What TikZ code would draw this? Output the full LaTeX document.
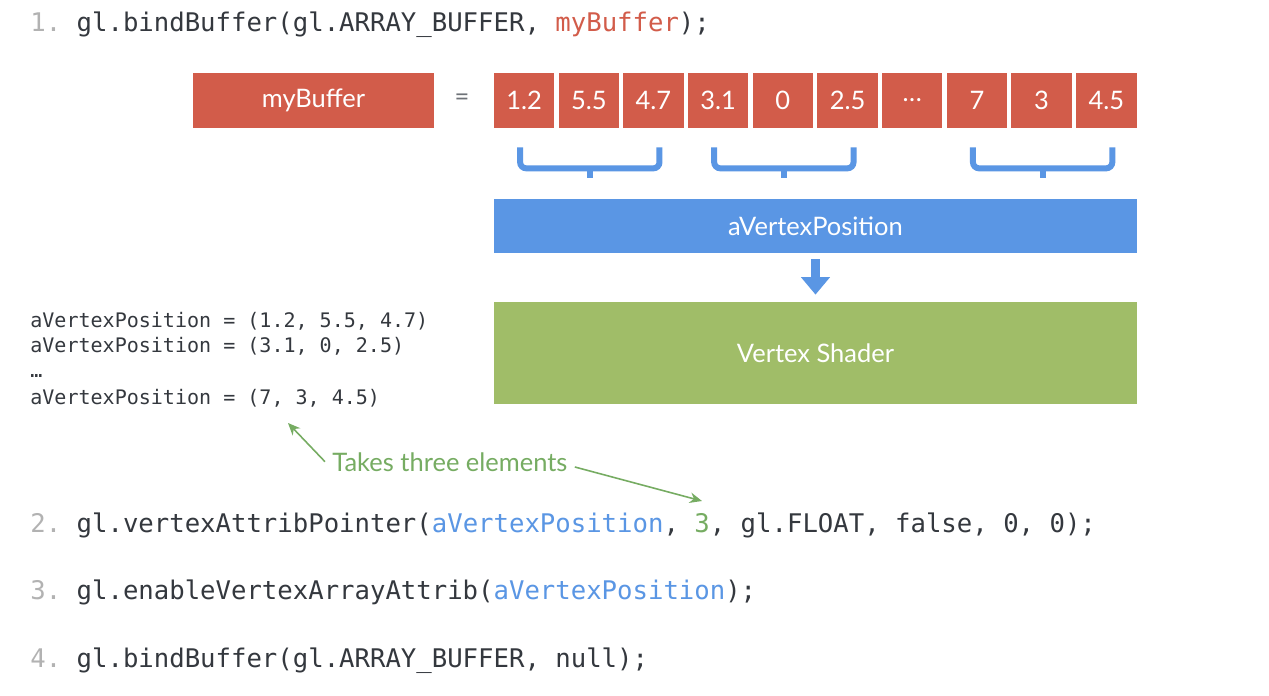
\documentclass[tikz,border=0pt]{standalone}
\usepackage{fontspec}
\setmainfont{Lato}
\setmonofont{DejaVu Sans Mono}
\usepackage{tikz}
\usetikzlibrary{positioning, arrows.meta, calc}
\usepackage{xcolor}
\definecolor{bufred}{RGB}{210,92,74}
\definecolor{attrblue}{RGB}{90,150,228}
\definecolor{shadergreen}{RGB}{160,189,104}
\definecolor{notegreen}{RGB}{118,172,98}
\definecolor{codegray}{RGB}{52,56,62}
\definecolor{linenum}{RGB}{178,178,178}
\definecolor{eqgray}{RGB}{110,114,120}
\newcommand{\us}{\char95\relax}

\begin{document}
\begin{tikzpicture}[
  x=0.02cm, y=-0.02cm,
  cell/.style  = {rectangle, fill=bufred, text=white, inner sep=0pt,
                  minimum width=1.21cm, minimum height=1.1cm,
                  font=\fontsize{14.5}{17}\selectfont},
  bar/.style   = {rectangle, text=white, inner sep=0pt, minimum width=12.86cm,
                  font=\fontsize{14.5}{17}\selectfont},
  code/.style  = {anchor=base west, inner sep=0pt, text=codegray,
                  font=\ttfamily\fontsize{14.6}{17}\selectfont},
  small/.style = {anchor=base west, inner sep=0pt, text=codegray,
                  font=\ttfamily\fontsize{11.4}{14}\selectfont},
  brace/.style = {draw=attrblue, line width=3.4pt, rounded corners=3.5pt},
  flow/.style  = {draw=attrblue, line width=5.6pt,
                  -{Triangle[length=10pt,width=16pt]},
                  shorten <=3.4pt, shorten >=4pt},
  note/.style  = {draw=notegreen, line width=0.9pt,
                  -{Stealth[length=7pt,width=6pt]}}
]
\path[use as bounding box, fill=white] (0,0) rectangle (1269,696);
% Step 1
\node[code] (line1) at (30,32) {\textcolor{linenum}{1.} gl.bindBuffer(gl.ARRAY\us BUFFER, \textcolor{bufred}{myBuffer});};
% Buffer contents
\node[cell, minimum width=4.82cm] (buf) at (313.5,100.5) {myBuffer};
\node[text=eqgray, font=\fontsize{14.5}{17}\selectfont] (eq) at (462,100) {=};
\coordinate (c0) at (490,100.5);
\foreach \v [count=\i, evaluate=\i as \j using int(\i-1)] in {1.2,5.5,4.7,3.1,0,2.5,{.\kern0.3pt.\kern0.3pt.},7,3,4.5}
  \node[cell, right=0.07cm of c\j] (c\i) {\v};
% Braces grouping three values
\foreach \a/\b in {1/3, 4/6, 8/10} {
  \draw[brace] ($(c\a.south)+(-4,19)$) |- ($(c\b.south)+(6,40)$) -- ($(c\b.south)+(6,19)$);
  \draw[brace, rounded corners=0pt] ($(c\a.south)!0.5!(c\b.south)+(1,40)$) -- ++(0,10);
}
% Attribute and shader
\node[bar, fill=attrblue, minimum height=1.08cm] (attr) at (815.5,226) {aVertexPosition};
\node[bar, fill=shadergreen, minimum height=2.04cm] (vs) at (815.5,353) {Vertex Shader};
\draw[flow] (attr) -- (vs);
% Values read per vertex
\node[small] (pos1) at (30,327) {aVertexPosition = (1.2, 5.5, 4.7)};
\node[small] (pos2) at (30,352) {aVertexPosition = (3.1, 0, 2.5)};
\node[small] (pos3) at (30,377) {…};
\node[small] (pos4) at (30,404) {aVertexPosition = (7, 3, 4.5)};
% Annotation
\node[anchor=base west, inner ysep=0pt, inner xsep=4pt, text=notegreen,
      font=\fontsize{14.5}{17}\selectfont] (note) at (325,471) {Takes three elements};
\coordinate (tipA) at (288,423);
\coordinate (three) at (702,501);
\draw[note] (note.west) -- (tipA);
\draw[note] ([yshift=-3pt]note.east) -- (three);
% Steps 2 to 4
\node[code] (line2) at (30,532) {\textcolor{linenum}{2.} gl.vertexAttribPointer(\textcolor{attrblue}{aVertexPosition}, \textcolor{notegreen}{3}, gl.FLOAT, false, 0, 0);};
\node[code] (line3) at (30,599) {\textcolor{linenum}{3.} gl.enableVertexArrayAttrib(\textcolor{attrblue}{aVertexPosition});};
\node[code] (line4) at (30,667) {\textcolor{linenum}{4.} gl.bindBuffer(gl.ARRAY\us BUFFER, null);};
\end{tikzpicture}
\end{document}
